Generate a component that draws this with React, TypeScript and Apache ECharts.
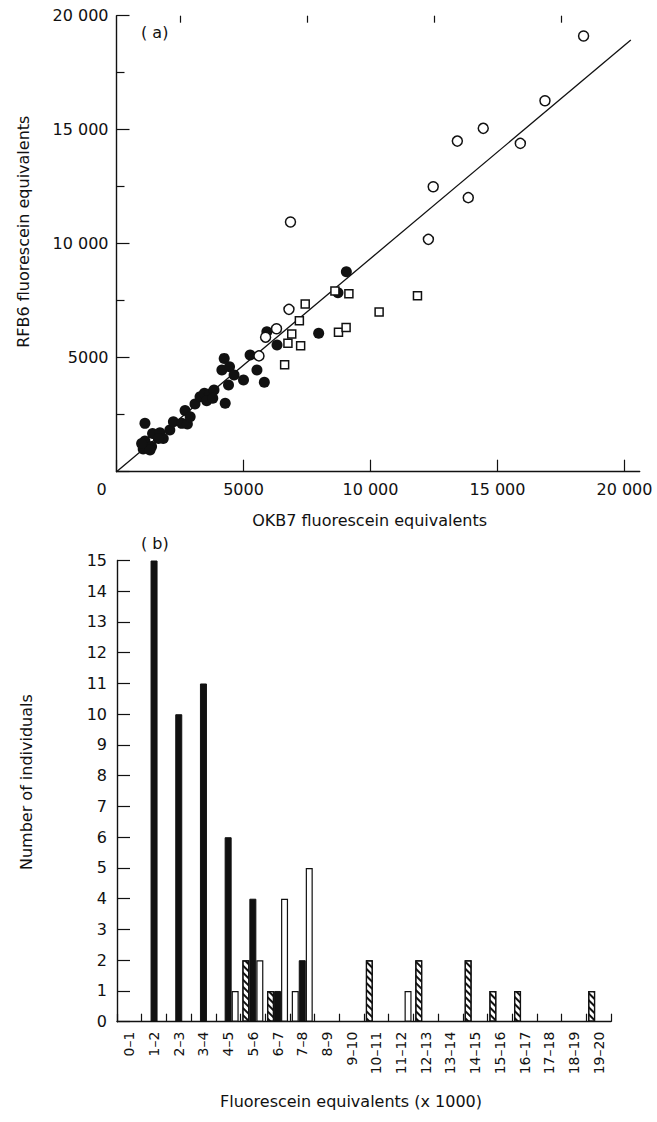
import React, { useEffect, useRef } from "react";
import * as echarts from "echarts";

// ---------- Panel (a): scatter, OKB7 vs RFB6 fluorescein equivalents ----------
const filledCircles: number[][] = [
  [1050, 1000], [1120, 1350], [1120, 2120], [1380, 1100], [1320, 950], [990, 1240],
  [1420, 1680], [1710, 1710], [1840, 1460], [1650, 1460], [2100, 1830], [2240, 2190],
  [2570, 2120], [2790, 2090], [2700, 2680], [2900, 2410], [3090, 2970], [3290, 3290],
  [3460, 3440], [3660, 3410], [3840, 3580], [3550, 3110], [3790, 3220], [4280, 3000],
  [4410, 3800], [4150, 4460], [4240, 4970], [4450, 4600], [4630, 4240], [5000, 4020],
  [5260, 5120], [5530, 4460], [5820, 3920], [5920, 6140], [6320, 5560], [7960, 6070],
  [8720, 7850], [9050, 8770],
];
const openCircles: number[][] = [
  [5610, 5080], [5870, 5900], [6300, 6270], [6790, 7120], [6850, 10950], [12280, 10190],
  [12470, 12500], [13850, 12020], [13420, 14500], [14440, 15060], [15900, 14400],
  [16870, 16270], [18390, 19110],
];
const openSquares: number[][] = [
  [6620, 4690], [6750, 5630], [6900, 6040], [7200, 6620], [7250, 5520], [7430, 7360],
  [8600, 7930], [9150, 7810], [8740, 6120], [9040, 6320], [10340, 7000], [11850, 7720],
];
const fitLine: number[][] = [[0, 0], [20250, 18930]];
const scatterXMajor = [0, 5000, 10000, 15000, 20000];
const scatterXMinor = [2500, 7500, 12500, 17500];

// ---------- Panel (b): histogram ----------
const binLabels = [
  "0–1", "1–2", "2–3", "3–4", "4–5", "5–6", "6–7", "7–8", "8–9", "9–10",
  "10–11", "11–12", "12–13", "13–14", "14–15", "15–16", "16–17", "17–18", "18–19", "19–20",
];
const hatchedCounts = [0, 0, 0, 0, 0, 2, 1, 1, 0, 0, 2, 0, 2, 0, 2, 1, 1, 0, 0, 1];
const hatchedPlainBins = [7]; // bar in the hatched slot drawn without hatching
const blackCounts = [0, 15, 10, 11, 6, 4, 1, 2, 0, 0, 0, 0, 0, 0, 0, 0, 0, 0, 0, 0];
const whiteCounts = [0, 0, 0, 0, 1, 2, 4, 5, 0, 0, 0, 1, 0, 0, 0, 0, 0, 0, 0, 0];

const FONT = "DejaVu Sans";
const INK = "#111";

function fmtThousands(v: number): string {
  if (v >= 10000) {
    const k = Math.floor(v / 1000);
    const r = String(v % 1000).padStart(3, "0");
    return `${k} ${r}`;
  }
  return String(v);
}

export default function App() {
  const ref = useRef<HTMLDivElement>(null);

  useEffect(() => {
    const chart = echarts.init(ref.current!, null, { renderer: "svg" });

    const axisLine = { show: true, lineStyle: { color: INK, width: 1.4 } };
    const tickLine = { color: INK, width: 1.2 };
    const labelStyle = { color: INK, fontFamily: FONT, fontSize: 16 };
    const nameStyle = { color: INK, fontFamily: FONT, fontSize: 16 };

    const zeroToDash = (arr: number[]) => arr.map((v) => (v === 0 ? "-" : v));

    const hatchedData = hatchedCounts.map((v, i) => {
      if (v === 0) return "-";
      if (hatchedPlainBins.includes(i)) return { value: v, itemStyle: { decal: "none" } };
      return v;
    });

    const barBase = {
      type: "bar",
      xAxisIndex: 2,
      yAxisIndex: 1,
      barWidth: 7,
      barGap: "0%",
    };

    const option: any = {
      animation: false,
      backgroundColor: "#fff",
      title: [
        { text: "( a)", left: 136, top: 19, textStyle: { ...nameStyle, fontWeight: "normal" } },
        { text: "( b)", left: 136, top: 530, textStyle: { ...nameStyle, fontWeight: "normal" } },
      ],
      grid: [
        { left: 116.5, top: 15.7, width: 523.2, height: 456, outerBoundsMode: "none" },
        { left: 117, top: 560.5, width: 494, height: 461.2, outerBoundsMode: "none" },
      ],
      xAxis: [
        {
          type: "value",
          gridIndex: 0,
          min: 0,
          max: 20600,
          axisLine,
          splitLine: { show: false },
          axisTick: { show: true, inside: true, length: 12, lineStyle: tickLine, customValues: scatterXMajor },
          axisLabel: {
            ...labelStyle,
            margin: 10,
            customValues: scatterXMajor,
            formatter: (v: number) => (v === 0 ? "{z|0}" : fmtThousands(v)),
            rich: { z: { ...labelStyle, padding: [0, 30, 0, 0] } },
          },
          name: "OKB7 fluorescein equivalents",
          nameLocation: "middle",
          nameGap: 41,
          nameTextStyle: { ...nameStyle, padding: [0, 17, 0, 0] },
        },
        {
          type: "value",
          gridIndex: 0,
          min: 0,
          max: 20600,
          axisLine: { show: false },
          splitLine: { show: false },
          axisLabel: { show: false },
          axisTick: { show: true, inside: true, length: 7, lineStyle: tickLine, customValues: scatterXMinor },
        },
        {
          type: "category",
          gridIndex: 1,
          data: binLabels,
          boundaryGap: true,
          axisLine,
          axisTick: { show: true, inside: true, length: 8, interval: 0, lineStyle: tickLine },
          axisLabel: { ...labelStyle, fontSize: 14, rotate: 90, interval: 0, margin: 10 },
          name: "Fluorescein equivalents (x 1000)",
          nameLocation: "middle",
          nameGap: 72,
          nameTextStyle: { ...nameStyle, padding: [0, 26, 0, 0] },
        },
      ],
      yAxis: [
        {
          type: "value",
          gridIndex: 0,
          min: 0,
          max: 20000,
          interval: 5000,
          axisLine,
          splitLine: { show: false },
          axisTick: { show: true, inside: true, length: 13, lineStyle: tickLine },
          minorTick: { show: true, splitNumber: 2, length: 8, lineStyle: tickLine },
          minorSplitLine: { show: false },
          axisLabel: {
            ...labelStyle,
            margin: 8,
            formatter: (v: number) => (v === 0 ? "" : fmtThousands(v)),
          },
          name: "RFB6 fluorescein equivalents",
          nameLocation: "middle",
          nameGap: 85,
          nameRotate: 90,
          nameTextStyle: { ...nameStyle, padding: [0, 0, 0, 24] },
        },
        {
          type: "value",
          gridIndex: 1,
          min: 0,
          max: 15,
          interval: 1,
          axisLine,
          splitLine: { show: false },
          axisTick: { show: true, inside: true, length: 13, lineStyle: tickLine },
          axisLabel: { ...labelStyle, margin: 10 },
          name: "Number of individuals",
          nameLocation: "middle",
          nameGap: 83,
          nameRotate: 90,
          nameTextStyle: { ...nameStyle, padding: [0, 0, 0, 18] },
        },
      ],
      series: [
        {
          type: "line",
          xAxisIndex: 0,
          yAxisIndex: 0,
          data: fitLine,
          symbol: "none",
          z: 1,
          lineStyle: { color: INK, width: 1.3 },
        },
        {
          type: "scatter",
          xAxisIndex: 0,
          yAxisIndex: 0,
          data: filledCircles,
          symbol: "circle",
          symbolSize: 11,
          z: 3,
          itemStyle: { color: INK, opacity: 1 },
        },
        {
          type: "scatter",
          xAxisIndex: 0,
          yAxisIndex: 0,
          data: openSquares,
          symbol: "rect",
          symbolSize: 8,
          z: 4,
          itemStyle: { color: "#fff", borderColor: INK, borderWidth: 1.5, opacity: 1 },
        },
        {
          type: "scatter",
          xAxisIndex: 0,
          yAxisIndex: 0,
          data: openCircles,
          symbol: "circle",
          symbolSize: 10,
          z: 4,
          itemStyle: { color: "#fff", borderColor: INK, borderWidth: 1.5, opacity: 1 },
        },
        {
          ...barBase,
          data: hatchedData,
          itemStyle: {
            color: "#fff",
            borderColor: INK,
            borderWidth: 1.2,
            decal: {
              symbol: "rect",
              symbolSize: 1,
              dashArrayX: [1, 0],
              dashArrayY: [1.2, 2.8],
              rotation: Math.PI / 4,
              color: INK,
            },
          },
        },
        {
          ...barBase,
          data: zeroToDash(blackCounts),
          itemStyle: { color: INK, borderColor: INK, borderWidth: 1 },
        },
        {
          ...barBase,
          data: zeroToDash(whiteCounts),
          itemStyle: { color: "#fff", borderColor: INK, borderWidth: 1.2 },
        },
      ],
    };

    chart.setOption(option);
    return () => chart.dispose();
  }, []);

  return (
    <div
      ref={ref}
      style={{ position: "fixed", left: 0, top: 0, width: 657, height: 1122, background: "#fff" }}
    />
  );
}
